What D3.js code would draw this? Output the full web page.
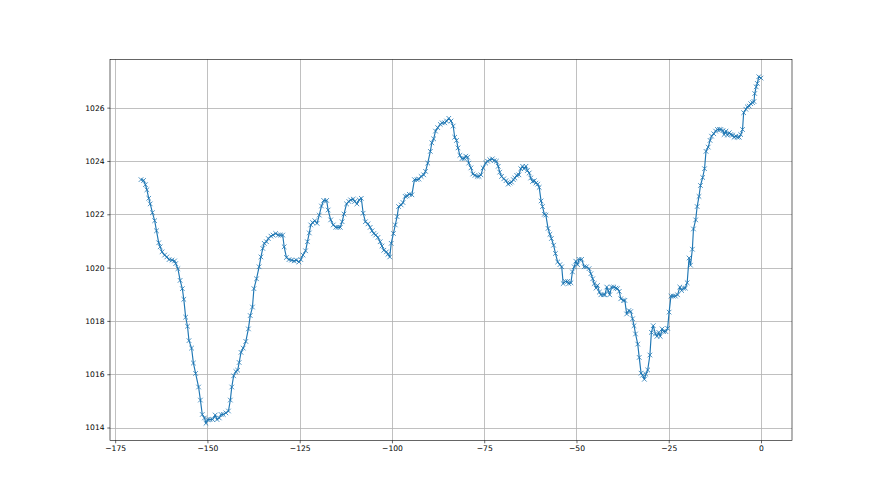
<!DOCTYPE html>
<html lang="en">
<head>
<meta charset="UTF-8">
<title>Pressure</title>
<script src="https://cdn.jsdelivr.net/npm/d3@7"></script>
<style>
    body { margin: 0; background: #fff; }
    svg text { font-family: "DejaVu Sans", sans-serif; font-size: 7.6px; fill: #000; }
</style>
</head>
<body>
<svg id="chart" width="880" height="495"></svg>
<script>
// hours before now
var hours = [
    -168, -167.3, -166.8, -166.4, -165.9, -165.5, -164.9, -164.3, -163.8, -163.2,
    -162.8, -162.3, -161.6, -161.0, -160.4, -159.6, -158.9, -158.6, -158.0, -157.4,
    -156.8, -156.4, -155.9, -155.4, -155.0, -154.3, -153.8, -153.2, -152.4, -151.9,
    -151.4, -150.8, -150.4, -149.9, -149.3, -148.6, -147.9, -147.4, -146.8, -146.3,
    -145.7, -145.0, -144.3, -143.8, -143.4, -142.9, -142.3, -141.8, -141.4, -140.9,
    -140.3, -139.6, -138.9, -138.4, -137.8, -137.4, -136.7, -136.0, -135.5, -135.0,
    -134.6, -134.0, -133.5, -132.8, -132.2, -131.5, -130.8, -130.2, -129.6, -129.2,
    -128.6, -127.9, -127.2, -126.5, -125.9, -125.2, -124.7, -124.1, -123.4, -122.9,
    -122.4, -122.0, -121.5, -120.9, -120.3, -119.7, -119.1, -118.5, -117.7, -117.3,
    -116.6, -115.9, -115.2, -114.6, -114.0, -113.5, -113.0, -112.3, -111.7, -111.2,
    -110.5, -110.1, -109.5, -108.9, -108.3, -107.8, -107.2, -106.5, -105.9, -105.4,
    -104.9, -104.4, -103.8, -103.2, -102.7, -102.2, -101.5, -101.1, -100.6, -100.2,
    -99.6, -99.1, -98.6, -98.2, -97.5, -97.0, -96.4, -95.9, -95.3, -94.6,
    -93.9, -93.2, -92.7, -92.1, -91.4, -90.9, -90.3, -89.6, -89.2, -88.7,
    -88.2, -87.6, -86.9, -86.4, -85.7, -85.2, -84.6, -84.0, -83.4, -83.0,
    -82.5, -82.1, -81.6, -81.0, -80.4, -80.0, -79.5, -79.2, -78.6, -78.1,
    -77.5, -76.9, -76.4, -75.9, -75.3, -74.6, -74.1, -73.5, -72.8, -72.3,
    -71.7, -71.2, -70.8, -70.3, -69.7, -69.1, -68.5, -68.0, -67.6, -67.1,
    -66.7, -66.2, -65.6, -65.1, -64.6, -64.2, -63.7, -63.3, -62.8, -62.4,
    -61.9, -61.4, -61.0, -60.5, -60.1, -59.6, -59.2, -58.7, -58.3, -57.7,
    -57.2, -56.8, -56.2, -55.7, -55.1, -54.5, -54.0, -53.6, -53.0, -52.4,
    -52.1, -51.5, -51.1, -50.6, -50.2, -49.7, -49.3, -48.6, -47.9, -47.3,
    -46.6, -46.1, -45.6, -45.2, -44.7, -44.3, -43.8, -43.4, -42.7, -42.3,
    -41.8, -41.4, -41.0, -40.5, -39.9, -39.3, -38.9, -38.4, -38.0, -37.3,
    -36.9, -36.4, -35.8, -35.3, -34.8, -34.4, -34.0, -33.4, -33.0, -32.5,
    -32.1, -31.6, -31.2, -30.7, -30.1, -29.7, -29.2, -28.6, -28.2, -27.7,
    -27.3, -26.8, -26.4, -25.8, -25.3, -24.9, -24.4, -23.8, -23.2, -22.6,
    -22.0, -21.5, -21.0, -20.5, -20.0, -19.5, -19.1, -18.6, -18.3, -17.7,
    -17.3, -16.8, -16.4, -15.8, -15.3, -14.9, -14.3, -13.8, -13.4, -12.8,
    -12.3, -11.8, -11.3, -10.9, -10.3, -10.0, -9.5, -9.1, -8.6, -8.2,
    -7.7, -7.3, -6.8, -6.4, -5.9, -5.5, -5.0, -4.7, -4.1, -3.7,
    -3.2, -2.8, -2.3, -1.9, -1.7, -1.3, -1.0, -0.6, 0
];

// pressure readings (hPa)
var pressure = [
    1023.30, 1023.27, 1023.11, 1022.92, 1022.60, 1022.39, 1022.06, 1021.76, 1021.38, 1020.93,
    1020.78, 1020.59, 1020.47, 1020.40, 1020.30, 1020.28, 1020.25, 1020.15, 1019.96, 1019.52,
    1019.21, 1018.81, 1018.14, 1017.80, 1017.26, 1016.98, 1016.42, 1016.03, 1015.52, 1015.03,
    1014.49, 1014.36, 1014.16, 1014.30, 1014.30, 1014.30, 1014.47, 1014.30, 1014.36, 1014.49,
    1014.49, 1014.55, 1014.62, 1015.03, 1015.52, 1015.94, 1016.10, 1016.15, 1016.44, 1016.82,
    1016.98, 1017.23, 1017.70, 1018.20, 1018.52, 1019.21, 1019.58, 1020.03, 1020.40, 1020.72,
    1020.91, 1020.97, 1021.09, 1021.18, 1021.22, 1021.28, 1021.22, 1021.22, 1021.22, 1020.78,
    1020.38, 1020.30, 1020.28, 1020.25, 1020.28, 1020.21, 1020.30, 1020.47, 1020.63, 1020.97,
    1021.30, 1021.60, 1021.69, 1021.76, 1021.66, 1021.97, 1022.31, 1022.52, 1022.52, 1022.16,
    1021.79, 1021.60, 1021.51, 1021.51, 1021.51, 1021.72, 1022.01, 1022.39, 1022.48, 1022.54,
    1022.57, 1022.48, 1022.39, 1022.54, 1022.60, 1022.04, 1021.72, 1021.64, 1021.51, 1021.38,
    1021.28, 1021.22, 1021.13, 1020.97, 1020.81, 1020.65, 1020.59, 1020.50, 1020.40, 1020.91,
    1021.28, 1021.60, 1021.91, 1022.29, 1022.35, 1022.44, 1022.67, 1022.69, 1022.75, 1022.73,
    1023.30, 1023.30, 1023.32, 1023.42, 1023.48, 1023.61, 1023.92, 1024.36, 1024.68, 1024.83,
    1025.12, 1025.25, 1025.37, 1025.43, 1025.43, 1025.50, 1025.60, 1025.50, 1025.31, 1024.89,
    1024.77, 1024.49, 1024.21, 1024.09, 1024.09, 1024.18, 1024.14, 1023.92, 1023.74, 1023.51,
    1023.46, 1023.42, 1023.42, 1023.48, 1023.74, 1023.92, 1023.99, 1024.05, 1024.08, 1024.01,
    1023.99, 1023.80, 1023.58, 1023.42, 1023.33, 1023.26, 1023.13, 1023.17, 1023.21, 1023.30,
    1023.36, 1023.46, 1023.48, 1023.71, 1023.80, 1023.71, 1023.80, 1023.64, 1023.55, 1023.36,
    1023.23, 1023.26, 1023.17, 1023.13, 1023.01, 1022.50, 1022.29, 1022.00, 1021.97, 1021.47,
    1021.25, 1021.09, 1020.84, 1020.53, 1020.21, 1020.11, 1020.03, 1019.40, 1019.48, 1019.48,
    1019.40, 1019.43, 1019.84, 1020.03, 1020.24, 1020.11, 1020.31, 1020.31, 1020.03, 1020.03,
    1019.96, 1019.77, 1019.58, 1019.40, 1019.23, 1019.33, 1019.08, 1018.98, 1018.98, 1018.98,
    1019.27, 1019.14, 1018.98, 1019.27, 1019.27, 1019.23, 1019.21, 1019.11, 1018.83, 1018.77,
    1018.77, 1018.26, 1018.39, 1018.35, 1018.08, 1017.82, 1017.51, 1017.13, 1016.63, 1016.04,
    1015.96, 1015.81, 1016.00, 1016.16, 1016.72, 1017.57, 1017.82, 1017.51, 1017.42, 1017.57,
    1017.42, 1017.70, 1017.60, 1017.60, 1017.72, 1018.33, 1018.93, 1018.93, 1018.93, 1018.98,
    1019.27, 1019.14, 1019.23, 1019.23, 1019.43, 1020.36, 1020.09, 1020.69, 1021.45, 1021.79,
    1022.29, 1022.67, 1023.08, 1023.38, 1023.71, 1024.36, 1024.52, 1024.77, 1024.93, 1025.02,
    1025.12, 1025.18, 1025.18, 1025.18, 1025.14, 1024.99, 1025.12, 1024.97, 1025.06, 1024.99,
    1024.97, 1024.89, 1024.93, 1024.89, 1024.89, 1024.99, 1025.18, 1025.81, 1025.94, 1026.03,
    1026.06, 1026.15, 1026.19, 1026.23, 1026.53, 1026.78, 1026.91, 1027.16, 1027.11
];

var xTicks = [-175, -150, -125, -100, -75, -50, -25, 0];
var yTicks = [1014, 1016, 1018, 1020, 1022, 1024, 1026];

var data = hours.map(function (h, i) { return { x: h, y: pressure[i] }; });

var svg = d3.select("#chart");
var pLeft = 110, pRight = 792, pTop = 59.4, pBottom = 440.6;

// matplotlib style 5% margins
var xMin = d3.min(hours), xMax = d3.max(hours);
var yMin = d3.min(pressure), yMax = d3.max(pressure);
var xPad = (xMax - xMin) * 0.05, yPad = (yMax - yMin) * 0.05;

var x = d3.scaleLinear().domain([xMin - xPad, xMax + xPad]).range([pLeft, pRight]);
var y = d3.scaleLinear().domain([yMin - yPad, yMax + yPad]).range([pBottom, pTop]);

var fmt = function (d) { return String(d).replace("-", "\u2212"); };

// grid
svg.append("g").selectAll("line").data(xTicks).enter().append("line")
    .attr("x1", function (d) { return Math.round(x(d)) + 0.5; })
    .attr("x2", function (d) { return Math.round(x(d)) + 0.5; })
    .attr("y1", pTop).attr("y2", pBottom)
    .attr("stroke", "#b0b0b0").attr("stroke-width", 0.8);
svg.append("g").selectAll("line").data(yTicks).enter().append("line")
    .attr("y1", function (d) { return Math.round(y(d)) + 0.5; })
    .attr("y2", function (d) { return Math.round(y(d)) + 0.5; })
    .attr("x1", pLeft).attr("x2", pRight)
    .attr("stroke", "#b0b0b0").attr("stroke-width", 0.8);

// line
var line = d3.line().x(function (d) { return x(d.x); }).y(function (d) { return y(d.y); });
svg.append("path").datum(data)
    .attr("d", line)
    .attr("fill", "none")
    .attr("stroke", "#1f77b4")
    .attr("stroke-width", 1.15)
    .attr("stroke-linejoin", "round");

// x markers
var m = 2.3;
svg.append("g").selectAll("path").data(data).enter().append("path")
    .attr("d", function (d) {
        var cx = x(d.x), cy = y(d.y);
        return "M" + (cx - m) + "," + (cy - m) + "L" + (cx + m) + "," + (cy + m) +
               "M" + (cx - m) + "," + (cy + m) + "L" + (cx + m) + "," + (cy - m);
    })
    .attr("stroke", "#1f77b4")
    .attr("stroke-width", 0.8)
    .attr("fill", "none");

// axes
var xAxis = d3.axisBottom(x).tickValues(xTicks).tickFormat(fmt).tickSize(2.7).tickPadding(2.7);
var yAxis = d3.axisLeft(y).tickValues(yTicks).tickFormat(fmt).tickSize(2.7).tickPadding(2.7);

var gx = svg.append("g").attr("transform", "translate(0," + pBottom + ")").call(xAxis);
var gy = svg.append("g").attr("transform", "translate(" + pLeft + ",0)").call(yAxis);
[gx, gy].forEach(function (g) {
    g.select(".domain").remove();
    g.selectAll(".tick line").attr("stroke", "#000").attr("stroke-width", 0.6);
    g.selectAll("text").attr("font-family", "DejaVu Sans, sans-serif").attr("font-size", 7.6);
});

// frame
svg.append("rect")
    .attr("x", pLeft).attr("y", pTop)
    .attr("width", pRight - pLeft).attr("height", pBottom - pTop)
    .attr("fill", "none").attr("stroke", "#000").attr("stroke-width", 0.6);
</script>
</body>
</html>
